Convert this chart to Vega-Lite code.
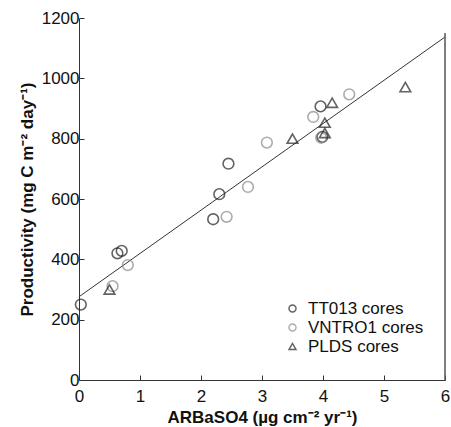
{
  "$schema": "https://vega.github.io/schema/vega-lite/v6.json",
  "width": 366,
  "height": 362,
  "autosize": {"type": "none"},
  "padding": {"left": 79, "top": 18, "right": 6, "bottom": 47},
  "background": "white",
  "config": {
    "view": {"stroke": null},
    "font": "Liberation Sans",
    "axis": {"domainColor": "#333", "tickColor": "#333", "labelColor": "#111", "titleColor": "#111", "grid": false, "labelFont": "Liberation Sans", "titleFont": "Liberation Sans"}
  },
  "datasets": {
    "pts": [
      {"ar": 0.03, "prod": 250, "core": "TT013 cores"},
      {"ar": 0.63, "prod": 420, "core": "TT013 cores"},
      {"ar": 0.70, "prod": 428, "core": "TT013 cores"},
      {"ar": 2.20, "prod": 533, "core": "TT013 cores"},
      {"ar": 2.30, "prod": 616, "core": "TT013 cores"},
      {"ar": 2.45, "prod": 717, "core": "TT013 cores"},
      {"ar": 3.96, "prod": 907, "core": "TT013 cores"},
      {"ar": 3.99, "prod": 806, "core": "TT013 cores"},
      {"ar": 0.55, "prod": 311, "core": "VNTRO1 cores"},
      {"ar": 0.80, "prod": 381, "core": "VNTRO1 cores"},
      {"ar": 2.42, "prod": 541, "core": "VNTRO1 cores"},
      {"ar": 2.77, "prod": 640, "core": "VNTRO1 cores"},
      {"ar": 3.08, "prod": 787, "core": "VNTRO1 cores"},
      {"ar": 3.84, "prod": 872, "core": "VNTRO1 cores"},
      {"ar": 4.43, "prod": 947, "core": "VNTRO1 cores"},
      {"ar": 3.97, "prod": 803, "core": "VNTRO1 cores"},
      {"ar": 0.50, "prod": 300, "core": "PLDS cores"},
      {"ar": 3.50, "prod": 800, "core": "PLDS cores"},
      {"ar": 4.03, "prod": 853, "core": "PLDS cores"},
      {"ar": 4.15, "prod": 919, "core": "PLDS cores"},
      {"ar": 4.03, "prod": 819, "core": "PLDS cores"},
      {"ar": 5.35, "prod": 971, "core": "PLDS cores"}
    ],
    "fit": [
      {"ar": 0, "prod": 276},
      {"ar": 6, "prod": 1137}
    ]
  },
  "layer": [
    {
      "data": {"name": "fit"},
      "mark": {"type": "line", "color": "#333", "strokeWidth": 1, "clip": true},
      "encoding": {
        "x": {"field": "ar", "type": "quantitative", "scale": {"domain": [0, 6], "nice": false},
          "axis": {"values": [0, 1, 2, 3, 4, 5, 6], "format": "d", "labelFlush": false, "tickSize": -5, "labelFontSize": 17, "labelPadding": 13, "title": "ARBaSO4 (µg cm⁻² yr⁻¹)", "titleFontSize": 17, "titleFontWeight": "bold", "titlePadding": 5}},
        "y": {"field": "prod", "type": "quantitative", "scale": {"domain": [0, 1200], "nice": false},
          "axis": {"values": [0, 100, 200, 300, 400, 500, 600, 700, 800, 900, 1000, 1100, 1200], "labelExpr": "datum.value % 200 == 0 ? datum.label : ''", "format": "d", "labelFlush": false, "tickSize": -5, "labelFontSize": 17, "labelPadding": 5, "title": "Productivity (mg C m⁻² day⁻¹)", "titleFontSize": 17, "titleFontWeight": "bold", "titlePadding": 5}}
      }
    },
    {
      "data": {"name": "fit"},
      "mark": {"type": "rule", "color": "#555", "strokeWidth": 1},
      "encoding": {"x": {"datum": 6}, "y": {"datum": 0}, "y2": {"datum": 1150}}
    },
    {
      "data": {"name": "pts"},
      "mark": {"type": "point", "filled": false, "size": 115, "strokeWidth": 1.6},
      "encoding": {
        "x": {"field": "ar", "type": "quantitative"},
        "y": {"field": "prod", "type": "quantitative"},
        "shape": {"field": "core", "type": "nominal",
          "scale": {"domain": ["TT013 cores", "VNTRO1 cores", "PLDS cores"], "range": ["circle", "circle", "triangle-up"]},
          "legend": {"title": null, "orient": "none", "legendX": 205, "legendY": 282, "labelFontSize": 17, "labelColor": "#111", "symbolSize": 50, "symbolStrokeWidth": 1.4, "rowPadding": 1, "labelOffset": 7, "symbolFillColor": "transparent"}},
        "stroke": {"field": "core", "type": "nominal",
          "scale": {"domain": ["TT013 cores", "VNTRO1 cores", "PLDS cores"], "range": ["#222222", "#8a8a8a", "#222222"]},
          "legend": {"title": null, "orient": "none", "legendX": 205, "legendY": 282, "labelFontSize": 17, "labelColor": "#111", "symbolSize": 50, "symbolStrokeWidth": 1.4, "rowPadding": 1, "labelOffset": 7, "symbolFillColor": "transparent"}}
      }
    }
  ]
}
